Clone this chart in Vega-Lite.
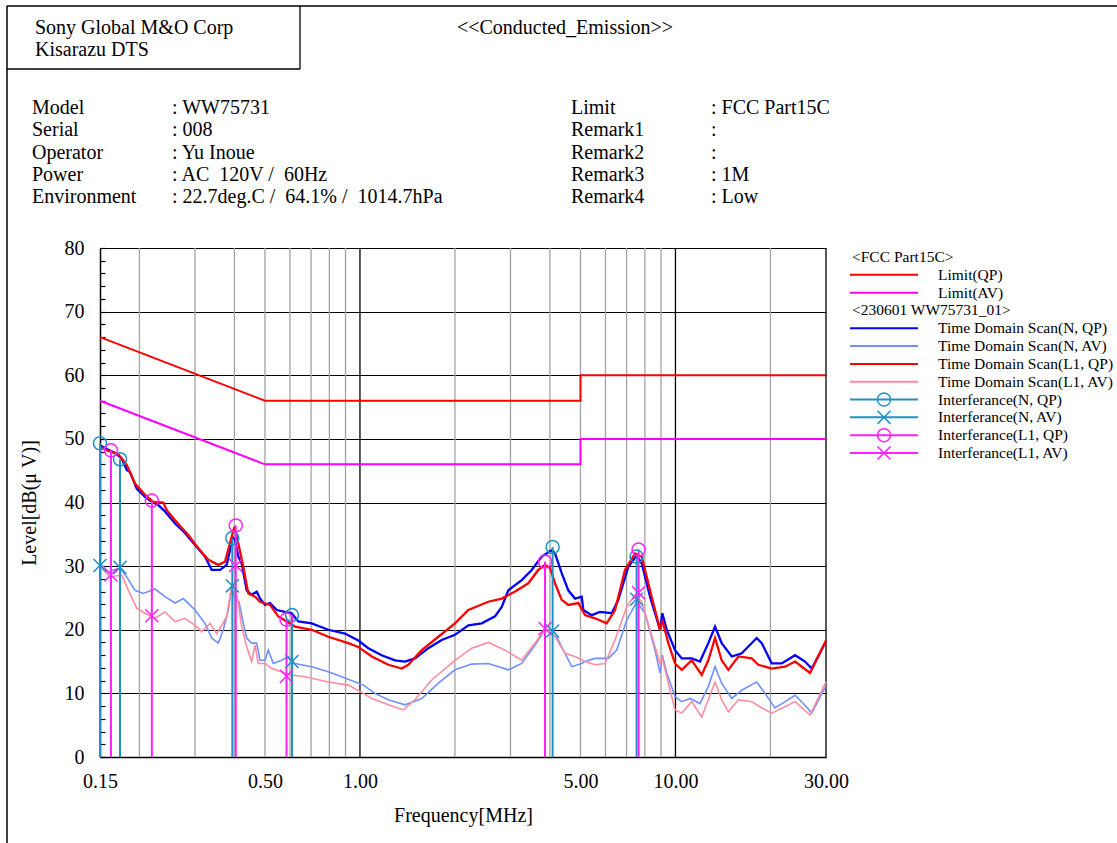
{
  "$schema": "https://vega.github.io/schema/vega-lite/v6.json",
  "width": 1110,
  "height": 837,
  "autosize": {"type": "none"},
  "padding": {"left": 7, "top": 6, "right": 0, "bottom": 0},
  "background": "#ffffff",
  "config": {
    "view": {"stroke": null},
    "legend": {"disable": true},
    "font": "'Liberation Serif', 'Times New Roman', serif",
    "text": {"font": "'Liberation Serif', 'Times New Roman', serif", "color": "#000000"}
  },
  "datasets": {
    "xgridMinor": [
      {"f": 0.2, "dB": 80}, {"f": 0.3, "dB": 80}, {"f": 0.4, "dB": 80}, {"f": 0.5, "dB": 80},
      {"f": 0.6, "dB": 80}, {"f": 0.7, "dB": 80}, {"f": 0.8, "dB": 80}, {"f": 0.9, "dB": 80},
      {"f": 2, "dB": 80}, {"f": 3, "dB": 80}, {"f": 4, "dB": 80}, {"f": 5, "dB": 80},
      {"f": 6, "dB": 80}, {"f": 7, "dB": 80}, {"f": 8, "dB": 80}, {"f": 9, "dB": 80}, {"f": 20, "dB": 80}
    ],
    "xgridMajor": [{"f": 1, "dB": 80}, {"f": 10, "dB": 80}, {"f": 30, "dB": 80}],
    "limitQP": [
      {"n": 1, "f": 0.15, "dB": 66}, {"n": 2, "f": 0.5, "dB": 56}, {"n": 3, "f": 5, "dB": 56},
      {"n": 4, "f": 5, "dB": 60}, {"n": 5, "f": 30, "dB": 60}
    ],
    "limitAV": [
      {"n": 1, "f": 0.15, "dB": 56}, {"n": 2, "f": 0.5, "dB": 46}, {"n": 3, "f": 5, "dB": 46},
      {"n": 4, "f": 5, "dB": 50}, {"n": 5, "f": 30, "dB": 50}
    ],
    "nqp": [
      {"f": 0.15, "dB": 49.0}, {"f": 0.1594, "dB": 48.3}, {"f": 0.1674, "dB": 47.8}, {"f": 0.1758, "dB": 46.9},
      {"f": 0.1823, "dB": 45.1}, {"f": 0.1867, "dB": 44.8}, {"f": 0.1961, "dB": 42.2}, {"f": 0.2083, "dB": 40.9},
      {"f": 0.2187, "dB": 40.1}, {"f": 0.2295, "dB": 39.6}, {"f": 0.241, "dB": 38.6}, {"f": 0.2594, "dB": 36.7},
      {"f": 0.2789, "dB": 35.2}, {"f": 0.3001, "dB": 33.3}, {"f": 0.3227, "dB": 31.5}, {"f": 0.3389, "dB": 29.4},
      {"f": 0.3601, "dB": 29.4}, {"f": 0.3782, "dB": 30.2}, {"f": 0.3873, "dB": 32.5}, {"f": 0.3939, "dB": 34.6},
      {"f": 0.4018, "dB": 34.1}, {"f": 0.4116, "dB": 31.5}, {"f": 0.4219, "dB": 30.4}, {"f": 0.4376, "dB": 26.2},
      {"f": 0.4538, "dB": 25.5}, {"f": 0.4708, "dB": 26.0}, {"f": 0.4822, "dB": 24.9}, {"f": 0.5001, "dB": 23.9},
      {"f": 0.5187, "dB": 24.2}, {"f": 0.5448, "dB": 23.1}, {"f": 0.5787, "dB": 22.8}, {"f": 0.6076, "dB": 22.6},
      {"f": 0.6376, "dB": 21.3}, {"f": 0.7032, "dB": 21.0}, {"f": 0.7935, "dB": 20.0}, {"f": 0.8966, "dB": 19.4},
      {"f": 0.9881, "dB": 18.3}, {"f": 1.063, "dB": 17.1}, {"f": 1.172, "dB": 16.0}, {"f": 1.291, "dB": 15.2},
      {"f": 1.389, "dB": 15.0}, {"f": 1.494, "dB": 15.5}, {"f": 1.647, "dB": 17.1}, {"f": 1.816, "dB": 18.4},
      {"f": 2.001, "dB": 19.2}, {"f": 2.206, "dB": 20.7}, {"f": 2.432, "dB": 21.0}, {"f": 2.68, "dB": 22.1},
      {"f": 2.814, "dB": 23.6}, {"f": 2.953, "dB": 26.2}, {"f": 3.257, "dB": 27.8}, {"f": 3.502, "dB": 29.4},
      {"f": 3.768, "dB": 31.5}, {"f": 4.053, "dB": 32.5}, {"f": 4.152, "dB": 32.0}, {"f": 4.359, "dB": 28.9},
      {"f": 4.575, "dB": 26.2}, {"f": 4.804, "dB": 24.9}, {"f": 5.045, "dB": 25.2}, {"f": 5.105, "dB": 23.1},
      {"f": 5.426, "dB": 22.3}, {"f": 5.765, "dB": 22.8}, {"f": 6.281, "dB": 22.6}, {"f": 6.591, "dB": 24.7},
      {"f": 7.09, "dB": 29.9}, {"f": 7.537, "dB": 31.7}, {"f": 7.818, "dB": 30.4}, {"f": 8.306, "dB": 25.2},
      {"f": 8.935, "dB": 20.0}, {"f": 9.086, "dB": 22.6}, {"f": 9.382, "dB": 20.0}, {"f": 9.968, "dB": 16.8},
      {"f": 10.47, "dB": 15.5}, {"f": 11.26, "dB": 15.5}, {"f": 11.96, "dB": 15.0}, {"f": 12.71, "dB": 17.9},
      {"f": 13.35, "dB": 20.5}, {"f": 14.01, "dB": 17.9}, {"f": 15.08, "dB": 15.8}, {"f": 16.22, "dB": 16.3},
      {"f": 18.09, "dB": 18.7}, {"f": 18.77, "dB": 17.9}, {"f": 20.19, "dB": 14.7}, {"f": 21.72, "dB": 14.7},
      {"f": 23.94, "dB": 16.0}, {"f": 25.74, "dB": 15.0}, {"f": 27.04, "dB": 13.9}, {"f": 30.0, "dB": 18.2}
    ],
    "nav": [
      {"f": 0.15, "dB": 30.4}, {"f": 0.1594, "dB": 29.1}, {"f": 0.1736, "dB": 29.7}, {"f": 0.1823, "dB": 28.3},
      {"f": 0.1936, "dB": 26.2}, {"f": 0.2057, "dB": 25.7}, {"f": 0.224, "dB": 26.4}, {"f": 0.241, "dB": 25.2},
      {"f": 0.2594, "dB": 24.2}, {"f": 0.2755, "dB": 24.9}, {"f": 0.3001, "dB": 23.1}, {"f": 0.3227, "dB": 21.0},
      {"f": 0.3389, "dB": 18.7}, {"f": 0.3557, "dB": 17.9}, {"f": 0.3689, "dB": 20.0}, {"f": 0.3826, "dB": 23.1},
      {"f": 0.3922, "dB": 26.8}, {"f": 0.4018, "dB": 24.7}, {"f": 0.4137, "dB": 24.4}, {"f": 0.4269, "dB": 21.0},
      {"f": 0.4376, "dB": 18.7}, {"f": 0.4538, "dB": 17.9}, {"f": 0.4708, "dB": 17.9}, {"f": 0.4822, "dB": 15.2},
      {"f": 0.5001, "dB": 15.2}, {"f": 0.5123, "dB": 16.8}, {"f": 0.5313, "dB": 14.7}, {"f": 0.5649, "dB": 15.2},
      {"f": 0.593, "dB": 15.8}, {"f": 0.6225, "dB": 14.7}, {"f": 0.7032, "dB": 14.2}, {"f": 0.7935, "dB": 13.4},
      {"f": 0.8966, "dB": 12.4}, {"f": 1.025, "dB": 11.3}, {"f": 1.116, "dB": 10.0}, {"f": 1.23, "dB": 9.0},
      {"f": 1.389, "dB": 8.2}, {"f": 1.57, "dB": 9.2}, {"f": 1.772, "dB": 11.6}, {"f": 2.001, "dB": 13.7},
      {"f": 2.261, "dB": 14.6}, {"f": 2.551, "dB": 14.7}, {"f": 2.953, "dB": 13.7}, {"f": 3.257, "dB": 14.7},
      {"f": 3.588, "dB": 17.6}, {"f": 3.86, "dB": 20.0}, {"f": 4.1, "dB": 20.0}, {"f": 4.359, "dB": 17.3},
      {"f": 4.69, "dB": 14.2}, {"f": 5.045, "dB": 14.7}, {"f": 5.167, "dB": 15.0}, {"f": 5.558, "dB": 15.5},
      {"f": 6.126, "dB": 15.5}, {"f": 6.514, "dB": 16.8}, {"f": 7.006, "dB": 21.5}, {"f": 7.537, "dB": 24.4},
      {"f": 8.008, "dB": 22.6}, {"f": 8.613, "dB": 16.8}, {"f": 8.935, "dB": 13.2}, {"f": 9.086, "dB": 16.0},
      {"f": 9.382, "dB": 13.2}, {"f": 9.968, "dB": 9.5}, {"f": 10.47, "dB": 8.7}, {"f": 11.12, "dB": 9.2},
      {"f": 11.96, "dB": 8.4}, {"f": 12.71, "dB": 11.1}, {"f": 13.35, "dB": 14.2}, {"f": 14.01, "dB": 11.6},
      {"f": 15.08, "dB": 9.2}, {"f": 16.22, "dB": 10.5}, {"f": 18.09, "dB": 11.8}, {"f": 19.23, "dB": 10.0},
      {"f": 20.68, "dB": 7.7}, {"f": 22.25, "dB": 8.7}, {"f": 23.94, "dB": 9.7}, {"f": 25.43, "dB": 8.4},
      {"f": 27.04, "dB": 6.9}, {"f": 30.0, "dB": 11.2}
    ],
    "lqp": [
      {"f": 0.15, "dB": 48.8}, {"f": 0.1594, "dB": 48.1}, {"f": 0.1715, "dB": 47.6}, {"f": 0.1823, "dB": 45.9},
      {"f": 0.1936, "dB": 43.0}, {"f": 0.2083, "dB": 41.2}, {"f": 0.2213, "dB": 40.1}, {"f": 0.2381, "dB": 40.0},
      {"f": 0.2441, "dB": 38.8}, {"f": 0.2594, "dB": 37.2}, {"f": 0.2857, "dB": 34.9}, {"f": 0.3074, "dB": 32.8},
      {"f": 0.3306, "dB": 31.0}, {"f": 0.3557, "dB": 30.2}, {"f": 0.3735, "dB": 30.7}, {"f": 0.3873, "dB": 33.6},
      {"f": 0.3998, "dB": 36.2}, {"f": 0.4116, "dB": 33.6}, {"f": 0.4269, "dB": 29.9}, {"f": 0.4427, "dB": 25.7},
      {"f": 0.465, "dB": 25.2}, {"f": 0.4822, "dB": 24.4}, {"f": 0.5187, "dB": 23.9}, {"f": 0.5511, "dB": 22.1},
      {"f": 0.586, "dB": 21.3}, {"f": 0.6225, "dB": 20.5}, {"f": 0.7032, "dB": 20.0}, {"f": 0.7935, "dB": 18.9},
      {"f": 0.9185, "dB": 17.9}, {"f": 0.9881, "dB": 17.3}, {"f": 1.09, "dB": 15.8}, {"f": 1.23, "dB": 14.5},
      {"f": 1.357, "dB": 13.9}, {"f": 1.423, "dB": 14.5}, {"f": 1.57, "dB": 16.8}, {"f": 1.772, "dB": 18.9},
      {"f": 2.001, "dB": 21.0}, {"f": 2.206, "dB": 23.1}, {"f": 2.551, "dB": 24.4}, {"f": 2.814, "dB": 24.9},
      {"f": 3.102, "dB": 26.0}, {"f": 3.417, "dB": 27.3}, {"f": 3.675, "dB": 29.4}, {"f": 3.86, "dB": 30.2},
      {"f": 4.003, "dB": 29.7}, {"f": 4.152, "dB": 27.3}, {"f": 4.359, "dB": 24.7}, {"f": 4.575, "dB": 23.9},
      {"f": 4.922, "dB": 24.2}, {"f": 5.167, "dB": 22.3}, {"f": 5.558, "dB": 21.8}, {"f": 6.054, "dB": 21.0},
      {"f": 6.433, "dB": 23.1}, {"f": 6.92, "dB": 29.4}, {"f": 7.445, "dB": 32.0}, {"f": 7.818, "dB": 31.5},
      {"f": 8.306, "dB": 26.2}, {"f": 8.935, "dB": 20.0}, {"f": 9.086, "dB": 21.5}, {"f": 9.494, "dB": 17.9},
      {"f": 9.968, "dB": 14.7}, {"f": 10.47, "dB": 13.7}, {"f": 11.26, "dB": 15.2}, {"f": 12.11, "dB": 12.9},
      {"f": 12.71, "dB": 15.2}, {"f": 13.35, "dB": 18.7}, {"f": 14.01, "dB": 15.2}, {"f": 14.71, "dB": 13.7},
      {"f": 15.83, "dB": 15.8}, {"f": 17.45, "dB": 15.5}, {"f": 18.3, "dB": 14.5}, {"f": 20.19, "dB": 13.9},
      {"f": 22.25, "dB": 14.2}, {"f": 23.94, "dB": 15.0}, {"f": 26.7, "dB": 13.2}, {"f": 30.0, "dB": 18.3}
    ],
    "lav": [
      {"f": 0.15, "dB": 29.9}, {"f": 0.1614, "dB": 28.3}, {"f": 0.1758, "dB": 28.6}, {"f": 0.1845, "dB": 26.2},
      {"f": 0.1961, "dB": 23.4}, {"f": 0.2083, "dB": 22.6}, {"f": 0.224, "dB": 21.8}, {"f": 0.241, "dB": 22.8},
      {"f": 0.2594, "dB": 21.3}, {"f": 0.2789, "dB": 21.8}, {"f": 0.3001, "dB": 20.7}, {"f": 0.3151, "dB": 19.7},
      {"f": 0.3348, "dB": 21.0}, {"f": 0.3516, "dB": 19.4}, {"f": 0.3646, "dB": 20.7}, {"f": 0.3782, "dB": 22.1},
      {"f": 0.3902, "dB": 26.2}, {"f": 0.3998, "dB": 27.0}, {"f": 0.4116, "dB": 24.2}, {"f": 0.4219, "dB": 20.5},
      {"f": 0.4376, "dB": 17.3}, {"f": 0.4538, "dB": 15.0}, {"f": 0.465, "dB": 17.6}, {"f": 0.4762, "dB": 14.7},
      {"f": 0.5001, "dB": 14.7}, {"f": 0.5252, "dB": 13.9}, {"f": 0.5649, "dB": 13.4}, {"f": 0.6076, "dB": 12.9},
      {"f": 0.6697, "dB": 12.6}, {"f": 0.7935, "dB": 11.8}, {"f": 0.9185, "dB": 11.3}, {"f": 1.025, "dB": 10.0},
      {"f": 1.09, "dB": 9.2}, {"f": 1.23, "dB": 8.2}, {"f": 1.372, "dB": 7.4}, {"f": 1.494, "dB": 9.0},
      {"f": 1.688, "dB": 12.1}, {"f": 2.001, "dB": 15.2}, {"f": 2.261, "dB": 17.1}, {"f": 2.551, "dB": 18.0},
      {"f": 2.883, "dB": 16.8}, {"f": 3.257, "dB": 15.2}, {"f": 3.588, "dB": 17.9}, {"f": 3.86, "dB": 20.2},
      {"f": 4.152, "dB": 18.9}, {"f": 4.466, "dB": 16.3}, {"f": 4.804, "dB": 15.8}, {"f": 5.167, "dB": 15.0},
      {"f": 5.558, "dB": 14.5}, {"f": 5.979, "dB": 14.7}, {"f": 6.433, "dB": 18.4}, {"f": 7.006, "dB": 23.6},
      {"f": 7.445, "dB": 25.5}, {"f": 7.818, "dB": 24.4}, {"f": 8.306, "dB": 20.0}, {"f": 8.935, "dB": 14.7},
      {"f": 9.086, "dB": 15.5}, {"f": 9.494, "dB": 11.6}, {"f": 9.968, "dB": 7.4}, {"f": 10.47, "dB": 6.9},
      {"f": 11.26, "dB": 8.7}, {"f": 12.11, "dB": 6.3}, {"f": 12.71, "dB": 9.0}, {"f": 13.35, "dB": 11.8},
      {"f": 14.01, "dB": 9.0}, {"f": 14.71, "dB": 7.1}, {"f": 15.83, "dB": 9.0}, {"f": 17.45, "dB": 8.7},
      {"f": 18.77, "dB": 7.7}, {"f": 20.19, "dB": 6.9}, {"f": 22.25, "dB": 7.9}, {"f": 23.94, "dB": 8.7},
      {"f": 26.7, "dB": 6.6}, {"f": 30.0, "dB": 11.8}
    ],
    "peaks": [
      {"series": "Interferance(N, QP)", "f": 0.15, "dB": 49.3},
      {"series": "Interferance(N, QP)", "f": 0.1736, "dB": 46.8},
      {"series": "Interferance(N, QP)", "f": 0.394, "dB": 34.4},
      {"series": "Interferance(N, QP)", "f": 0.609, "dB": 22.3},
      {"series": "Interferance(N, QP)", "f": 4.08, "dB": 33.0},
      {"series": "Interferance(N, QP)", "f": 7.53, "dB": 31.5},
      {"series": "Interferance(N, AV)", "f": 0.15, "dB": 30.1},
      {"series": "Interferance(N, AV)", "f": 0.1736, "dB": 29.8},
      {"series": "Interferance(N, AV)", "f": 0.394, "dB": 26.9},
      {"series": "Interferance(N, AV)", "f": 0.609, "dB": 15.0},
      {"series": "Interferance(N, AV)", "f": 4.08, "dB": 19.8},
      {"series": "Interferance(N, AV)", "f": 7.53, "dB": 24.8},
      {"series": "Interferance(L1, QP)", "f": 0.1625, "dB": 48.2},
      {"series": "Interferance(L1, QP)", "f": 0.219, "dB": 40.3},
      {"series": "Interferance(L1, QP)", "f": 0.404, "dB": 36.4},
      {"series": "Interferance(L1, QP)", "f": 0.585, "dB": 21.6},
      {"series": "Interferance(L1, QP)", "f": 3.86, "dB": 30.7},
      {"series": "Interferance(L1, QP)", "f": 7.64, "dB": 32.6},
      {"series": "Interferance(L1, AV)", "f": 0.1625, "dB": 28.6},
      {"series": "Interferance(L1, AV)", "f": 0.219, "dB": 22.2},
      {"series": "Interferance(L1, AV)", "f": 0.404, "dB": 30.1},
      {"series": "Interferance(L1, AV)", "f": 0.585, "dB": 12.7},
      {"series": "Interferance(L1, AV)", "f": 3.86, "dB": 20.2},
      {"series": "Interferance(L1, AV)", "f": 7.64, "dB": 25.8}
    ],
    "headerText": [
      {"col": 1, "line": -4, "text": "Sony Global M&O Corp"},
      {"col": 1, "line": -3, "text": "Kisarazu DTS"},
      {"col": 0, "line": 0, "text": "Model"},
      {"col": 2, "line": 0, "text": ": WW75731"},
      {"col": 0, "line": 1, "text": "Serial"},
      {"col": 2, "line": 1, "text": ": 008"},
      {"col": 0, "line": 2, "text": "Operator"},
      {"col": 2, "line": 2, "text": ": Yu Inoue"},
      {"col": 0, "line": 3, "text": "Power"},
      {"col": 2, "line": 3, "text": ": AC\u00a0 120V /\u00a0 60Hz"},
      {"col": 0, "line": 4, "text": "Environment"},
      {"col": 2, "line": 4, "text": ": 22.7deg.C /\u00a0 64.1% /\u00a0 1014.7hPa"},
      {"col": 5, "line": 0, "text": "Limit"},
      {"col": 6, "line": 0, "text": ": FCC Part15C"},
      {"col": 5, "line": 1, "text": "Remark1"},
      {"col": 6, "line": 1, "text": ":"},
      {"col": 5, "line": 2, "text": "Remark2"},
      {"col": 6, "line": 2, "text": ":"},
      {"col": 5, "line": 3, "text": "Remark3"},
      {"col": 6, "line": 3, "text": ": 1M"},
      {"col": 5, "line": 4, "text": "Remark4"},
      {"col": 6, "line": 4, "text": ": Low"}
    ],
    "titleText": [
      {"col": 4, "line": -4, "text": "<<Conducted_Emission>>"}
    ],
    "legendHeads": [
      {"row": 0, "text": "<FCC Part15C>"},
      {"row": 3, "text": "<230601 WW75731_01>"}
    ],
    "legendRows": [
      {"row": 1, "series": "Limit(QP)"},
      {"row": 2, "series": "Limit(AV)"},
      {"row": 4, "series": "Time Domain Scan(N, QP)"},
      {"row": 5, "series": "Time Domain Scan(N, AV)"},
      {"row": 6, "series": "Time Domain Scan(L1, QP)"},
      {"row": 7, "series": "Time Domain Scan(L1, AV)"},
      {"row": 8, "series": "Interferance(N, QP)"},
      {"row": 9, "series": "Interferance(N, AV)"},
      {"row": 10, "series": "Interferance(L1, QP)"},
      {"row": 11, "series": "Interferance(L1, AV)"}
    ]
  },
  "layer": [
    {
      "encoding": {
        "x": {
          "field": "f",
          "type": "quantitative",
          "scale": {"type": "log", "domain": [0.15, 30], "range": [93, 819], "nice": false},
          "axis": {
            "orient": "bottom",
            "offset": -86,
            "values": [0.15, 0.5, 1, 5, 10, 30],
            "format": ".2f",
            "labelOverlap": false,
            "labelFlush": false,
            "labelFont": "'Liberation Serif', 'Times New Roman', serif",
            "labelFontSize": 20,
            "labelColor": "#000000",
            "labelPadding": 14,
            "ticks": false,
            "tickSize": 0,
            "grid": false,
            "domainColor": "#000000",
            "domainWidth": 1.5,
            "title": "Frequency[MHz]",
            "titleFont": "'Liberation Serif', 'Times New Roman', serif",
            "titleFontSize": 20,
            "titleFontWeight": "normal",
            "titleColor": "#000000",
            "titlePadding": 14
          }
        },
        "y": {
          "field": "dB",
          "type": "quantitative",
          "scale": {"type": "linear", "domain": [0, 80], "range": [751, 242], "nice": false, "zero": false},
          "axis": {
            "orient": "left",
            "offset": -93,
            "values": [0, 2, 4, 6, 8, 10, 12, 14, 16, 18, 20, 22, 24, 26, 28, 30, 32, 34, 36, 38, 40, 42, 44, 46, 48, 50, 52, 54, 56, 58, 60, 62, 64, 66, 68, 70, 72, 74, 76, 78, 80],
            "labelExpr": "datum.value % 10 === 0 ? datum.label : ''",
            "labelOverlap": false,
            "labelFont": "'Liberation Serif', 'Times New Roman', serif",
            "labelFontSize": 20,
            "labelColor": "#000000",
            "labelPadding": 21,
            "tickSize": -5,
            "tickColor": "#000000",
            "tickWidth": 1.2,
            "grid": true,
            "gridColor": {
              "condition": {"test": "datum.value % 10 === 0", "value": "#000000"},
              "value": "transparent"
            },
            "gridWidth": 1.2,
            "domainColor": "#000000",
            "domainWidth": 1.5,
            "title": "Level[dB(μ V)]",
            "titleFont": "'Liberation Serif', 'Times New Roman', serif",
            "titleFontSize": 20,
            "titleFontWeight": "normal",
            "titleColor": "#000000",
            "titlePadding": 25
          }
        }
      },
      "layer": [
        {"data": {"name": "xgridMinor"}, "mark": {"type": "rule", "color": "#a3a3a3", "strokeWidth": 1.3}, "encoding": {"y2": {"datum": 0}}},
        {"data": {"name": "xgridMajor"}, "mark": {"type": "rule", "color": "#000000", "strokeWidth": 1.3}, "encoding": {"y2": {"datum": 0}}},
        {"data": {"name": "limitQP"}, "mark": {"type": "line", "color": "#ff0000", "strokeWidth": 2}, "encoding": {"order": {"field": "n"}}},
        {"data": {"name": "limitAV"}, "mark": {"type": "line", "color": "#ff00ff", "strokeWidth": 2}, "encoding": {"order": {"field": "n"}}},
        {"data": {"name": "nqp"}, "mark": {"type": "line", "color": "#0000ff", "strokeWidth": 2.3}, "encoding": {}},
        {"data": {"name": "nav"}, "mark": {"type": "line", "color": "#7090ff", "strokeWidth": 1.6}, "encoding": {}},
        {"data": {"name": "lqp"}, "mark": {"type": "line", "color": "#ff0000", "strokeWidth": 2.3}, "encoding": {}},
        {"data": {"name": "lav"}, "mark": {"type": "line", "color": "#ff8ca0", "strokeWidth": 1.6}, "encoding": {}},
        {
          "data": {"name": "peaks"},
          "transform": [{"filter": "datum.series === 'Interferance(N, QP)'"}],
          "mark": {"type": "rule", "color": "#2090c8", "strokeWidth": 2},
          "encoding": {"y2": {"datum": 0}}
        },
        {
          "data": {"name": "peaks"},
          "transform": [{"filter": "datum.series === 'Interferance(L1, QP)'"}],
          "mark": {"type": "rule", "color": "#ff22ff", "strokeWidth": 2},
          "encoding": {"y2": {"datum": 0}}
        },
        {
          "data": {"name": "peaks"},
          "transform": [{"filter": "datum.series === 'Interferance(N, QP)'"}],
          "mark": {"type": "point", "shape": "circle", "filled": false, "size": 170, "strokeWidth": 1.5, "color": "#2090c8", "opacity": 1}
        },
        {
          "data": {"name": "peaks"},
          "transform": [{"filter": "datum.series === 'Interferance(N, AV)'"}],
          "mark": {"type": "point", "shape": "M-1,-1L1,1M1,-1L-1,1", "filled": false, "size": 170, "strokeWidth": 1.5, "color": "#2090c8", "opacity": 1}
        },
        {
          "data": {"name": "peaks"},
          "transform": [{"filter": "datum.series === 'Interferance(L1, QP)'"}],
          "mark": {"type": "point", "shape": "circle", "filled": false, "size": 170, "strokeWidth": 1.5, "color": "#ff22ff", "opacity": 1}
        },
        {
          "data": {"name": "peaks"},
          "transform": [{"filter": "datum.series === 'Interferance(L1, AV)'"}],
          "mark": {"type": "point", "shape": "M-1,-1L1,1M1,-1L-1,1", "filled": false, "size": 170, "strokeWidth": 1.5, "color": "#ff22ff", "opacity": 1}
        }
      ]
    },
    {
      "layer": [
        {
          "data": {"name": "headerText"},
          "mark": {"type": "text", "align": "left", "baseline": "alphabetic", "fontSize": 20, "color": "#000000"},
          "encoding": {
            "x": {"field": "col", "type": "quantitative", "axis": null,
                  "scale": {"type": "linear", "domain": [-1, 0, 1, 2, 3, 4, 5, 6], "range": [0, 25, 28, 165, 293, 558, 564, 704], "nice": false, "zero": false}},
            "y": {"field": "line", "type": "quantitative", "axis": null,
                  "scale": {"type": "linear", "domain": [-5, -4, -3, -2, 0, 4], "range": [0, 28, 50, 63, 108, 197], "nice": false, "zero": false}},
            "text": {"field": "text"}
          }
        },
        {
          "data": {"name": "titleText"},
          "mark": {"type": "text", "align": "center", "baseline": "alphabetic", "fontSize": 20, "color": "#000000"},
          "encoding": {
            "x": {"field": "col", "type": "quantitative", "axis": null,
                  "scale": {"type": "linear", "domain": [-1, 0, 1, 2, 3, 4, 5, 6], "range": [0, 25, 28, 165, 293, 558, 564, 704], "nice": false, "zero": false}},
            "y": {"field": "line", "type": "quantitative", "axis": null,
                  "scale": {"type": "linear", "domain": [-5, -4, -3, -2, 0, 4], "range": [0, 28, 50, 63, 108, 197], "nice": false, "zero": false}},
            "text": {"field": "text"}
          }
        },
        {
          "data": {"name": "titleText"},
          "mark": {"type": "rule", "color": "#000000", "strokeWidth": 1.5},
          "encoding": {
            "y": {"datum": -5, "axis": null,
                  "scale": {"type": "linear", "domain": [-5, -4, -3, -2, 0, 4], "range": [0, 28, 50, 63, 108, 197], "nice": false, "zero": false}}
          }
        },
        {
          "data": {"name": "titleText"},
          "mark": {"type": "rule", "color": "#000000", "strokeWidth": 1.5},
          "encoding": {
            "x": {"datum": -1, "axis": null,
                  "scale": {"type": "linear", "domain": [-1, 0, 1, 2, 3, 4, 5, 6], "range": [0, 25, 28, 165, 293, 558, 564, 704], "nice": false, "zero": false}}
          }
        },
        {
          "data": {"name": "titleText"},
          "mark": {"type": "rule", "color": "#000000", "strokeWidth": 1.3},
          "encoding": {
            "x": {"datum": 3, "axis": null,
                  "scale": {"type": "linear", "domain": [-1, 0, 1, 2, 3, 4, 5, 6], "range": [0, 25, 28, 165, 293, 558, 564, 704], "nice": false, "zero": false}},
            "y": {"datum": -5, "axis": null,
                  "scale": {"type": "linear", "domain": [-5, -4, -3, -2, 0, 4], "range": [0, 28, 50, 63, 108, 197], "nice": false, "zero": false}},
            "y2": {"datum": -2}
          }
        },
        {
          "data": {"name": "titleText"},
          "mark": {"type": "rule", "color": "#000000", "strokeWidth": 1.3},
          "encoding": {
            "x": {"datum": -1, "axis": null,
                  "scale": {"type": "linear", "domain": [-1, 0, 1, 2, 3, 4, 5, 6], "range": [0, 25, 28, 165, 293, 558, 564, 704], "nice": false, "zero": false}},
            "x2": {"datum": 3},
            "y": {"datum": -2, "axis": null,
                  "scale": {"type": "linear", "domain": [-5, -4, -3, -2, 0, 4], "range": [0, 28, 50, 63, 108, 197], "nice": false, "zero": false}}
          }
        }
      ]
    },
    {
      "layer": [
        {
          "data": {"name": "legendHeads"},
          "mark": {"type": "text", "align": "left", "baseline": "middle", "fontSize": 15.5, "color": "#000000"},
          "encoding": {
            "x": {"datum": 1, "axis": null, "scale": {"type": "linear", "domain": [0, 1, 2, 3, 4], "range": [843, 845, 877, 911, 931], "nice": false, "zero": false}},
            "y": {"field": "row", "type": "quantitative", "axis": null, "scale": {"type": "linear", "domain": [0, 11], "range": [251, 447], "nice": false, "zero": false}},
            "text": {"field": "text"}
          }
        },
        {
          "data": {"name": "legendRows"},
          "mark": {"type": "rule", "strokeWidth": 2},
          "encoding": {
            "x": {"datum": 0, "axis": null, "scale": {"type": "linear", "domain": [0, 1, 2, 3, 4], "range": [843, 845, 877, 911, 931], "nice": false, "zero": false}},
            "x2": {"datum": 3},
            "y": {"field": "row", "type": "quantitative", "axis": null, "scale": {"type": "linear", "domain": [0, 11], "range": [251, 447], "nice": false, "zero": false}},
            "color": {
              "field": "series",
              "type": "nominal",
              "scale": {
                "domain": ["Limit(QP)", "Limit(AV)", "Time Domain Scan(N, QP)", "Time Domain Scan(N, AV)", "Time Domain Scan(L1, QP)", "Time Domain Scan(L1, AV)", "Interferance(N, QP)", "Interferance(N, AV)", "Interferance(L1, QP)", "Interferance(L1, AV)"],
                "range": ["#ff0000", "#ff00ff", "#0000ff", "#7090ff", "#ff0000", "#ff8ca0", "#2090c8", "#2090c8", "#ff22ff", "#ff22ff"]
              }
            }
          }
        },
        {
          "data": {"name": "legendRows"},
          "transform": [{"filter": "indexof(datum.series, 'Interferance') === 0"}],
          "mark": {"type": "point", "filled": false, "size": 170, "strokeWidth": 1.5, "opacity": 1},
          "encoding": {
            "x": {"datum": 2, "axis": null, "scale": {"type": "linear", "domain": [0, 1, 2, 3, 4], "range": [843, 845, 877, 911, 931], "nice": false, "zero": false}},
            "y": {"field": "row", "type": "quantitative", "axis": null, "scale": {"type": "linear", "domain": [0, 11], "range": [251, 447], "nice": false, "zero": false}},
            "color": {
              "field": "series",
              "type": "nominal",
              "scale": {
                "domain": ["Limit(QP)", "Limit(AV)", "Time Domain Scan(N, QP)", "Time Domain Scan(N, AV)", "Time Domain Scan(L1, QP)", "Time Domain Scan(L1, AV)", "Interferance(N, QP)", "Interferance(N, AV)", "Interferance(L1, QP)", "Interferance(L1, AV)"],
                "range": ["#ff0000", "#ff00ff", "#0000ff", "#7090ff", "#ff0000", "#ff8ca0", "#2090c8", "#2090c8", "#ff22ff", "#ff22ff"]
              }
            },
            "shape": {
              "field": "series",
              "type": "nominal",
              "scale": {
                "domain": ["Interferance(N, QP)", "Interferance(N, AV)", "Interferance(L1, QP)", "Interferance(L1, AV)"],
                "range": ["circle", "M-1,-1L1,1M1,-1L-1,1", "circle", "M-1,-1L1,1M1,-1L-1,1"]
              }
            }
          }
        },
        {
          "data": {"name": "legendRows"},
          "mark": {"type": "text", "align": "left", "baseline": "middle", "fontSize": 15.5, "color": "#000000"},
          "encoding": {
            "x": {"datum": 4, "axis": null, "scale": {"type": "linear", "domain": [0, 1, 2, 3, 4], "range": [843, 845, 877, 911, 931], "nice": false, "zero": false}},
            "y": {"field": "row", "type": "quantitative", "axis": null, "scale": {"type": "linear", "domain": [0, 11], "range": [251, 447], "nice": false, "zero": false}},
            "text": {"field": "series"}
          }
        }
      ]
    }
  ],
  "resolve": {"scale": {"x": "independent", "y": "independent"}, "axis": {"x": "independent", "y": "independent"}}
}
